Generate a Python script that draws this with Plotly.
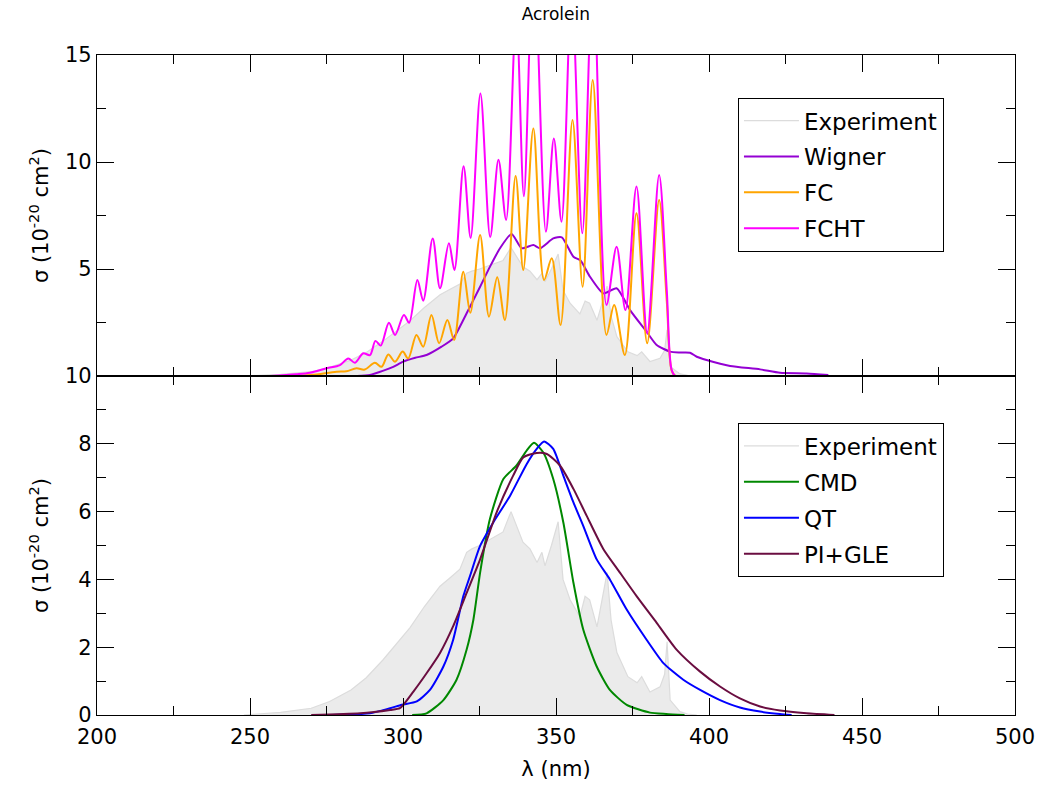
import plotly.graph_objects as go
from plotly.subplots import make_subplots

# ---------------- data ----------------
exp_wl = [248, 252, 260, 270, 276, 283, 288, 293.5, 298, 302.3, 307, 312.1, 315.4, 318.6, 320.8,
          322.5, 325, 329.4, 332.7, 335.3, 337, 339.2, 341.5, 343.8, 345.4, 346.4, 348.5, 350.7,
          352.3, 354.6, 357.8, 359.5, 361, 363.4, 366.7, 368, 369.9, 373.5, 376.5, 378, 380.7,
          384, 385.5, 386.3, 387.3, 390.5, 393, 396]
exp_s = [0, 0.02, 0.08, 0.2, 0.4, 0.74, 1.1, 1.63, 2.1, 2.58, 3.2, 3.8, 4.05, 4.3, 4.8,
         4.9, 5.0, 5.24, 5.4, 6.0, 5.6, 5.1, 4.9, 4.5, 4.8, 4.4, 5.0, 5.7,
         4.0, 3.4, 2.9, 3.5, 3.4, 2.6, 4.2, 2.8, 1.84, 1.13, 0.95, 1.13, 0.68,
         0.83, 1.2, 2.16, 0.44, 0.1, 0.03, 0]

wig_wl = [285, 289.2, 293.6, 296.8, 300.1, 304, 307.7, 312.6, 316.4, 320.8, 325.2, 328.4, 331.7,
          335.5, 338.8, 342.6, 344.8, 349.1, 351.9, 355.7, 358, 361.1, 365.5, 369.8, 374.2,
          379.6, 382.9, 387.3, 390.5, 393.8, 396, 399.2, 406.9, 416.7, 423.2, 431.9, 439]
wig_s = [0, 0.05, 0.25, 0.43, 0.67, 0.85, 0.98, 1.37, 1.76, 2.93, 4.17, 5.1, 5.97,
         6.64, 5.97, 6.12, 5.97, 6.43, 6.48, 5.57, 5.4, 4.64, 3.86, 4.1, 3.08,
         2.07, 1.45, 1.14, 1.1, 1.09, 0.9, 0.75, 0.47, 0.31, 0.15, 0.12, 0.05]

fc_wl = [263, 270, 278.3, 281.5, 284.8, 287.5, 290.8, 293, 295.2, 297.4, 299.9, 301.7, 304.4,
         306.6, 309.3, 311.8, 314.5, 316.7, 319.7, 322.0, 325.2, 328.1, 330.8, 333.3, 336.8,
         339.3, 342.6, 346.1, 348.6, 351.5, 355.4, 358.7, 362.0, 366.5, 369.0, 372.5, 376.3,
         379.8, 383.7, 386.2, 387.8, 389, 392]
fc_s = [0, 0.05, 0.2, 0.22, 0.36, 0.3, 0.62, 0.43, 1.01, 0.67, 1.14, 0.82, 1.92,
        1.37, 2.85, 1.53, 2.62, 1.68, 4.87, 2.95, 6.59, 2.77, 4.61, 2.62, 9.35,
        4.95, 11.57, 4.49, 5.5, 2.38, 11.96, 4.17, 13.83, 1.92, 3.32, 0.98, 7.6,
        1.53, 8.22, 3.5, 0.25, 0, 0]

fcht_wl = [256.5, 265, 269.6, 275, 279.4, 282.1, 284.3, 287, 289.2, 291, 292.7, 295.4, 297.4,
           300.3, 302, 304.7, 306.6, 309.7, 312.1, 315, 316.8, 319.8, 322.1, 325.3, 328.5,
           331.2, 333.7, 337.0, 339.5, 342.7, 346.7, 349.3, 351.8, 355.1, 358.6, 362.1, 366.5,
           369.8, 372.7, 376.3, 379.8, 383.7, 386.2, 387.8, 389, 392]
fcht_s = [0, 0.08, 0.15, 0.36, 0.51, 0.82, 0.62, 1.06, 0.98, 1.64, 1.42, 2.49, 1.92,
          2.85, 2.49, 4.49, 3.52, 6.43, 4.1, 6.2, 4.95, 9.8, 6.45, 13.2, 6.5,
          10.1, 7.29, 17, 8.4, 20, 6.74, 11.1, 7.21, 18, 6.67, 19, 3.32,
          6.04, 3.08, 8.85, 2.0, 9.39, 4.0, 0.28, 0, 0]

cmd_wl = [303, 307.7, 313.2, 317.5, 320.8, 323, 325.2, 328.4, 332.8, 337.1, 340.4, 342.8, 345.8,
          349.1, 352.4, 355.7, 358.9, 363.3, 367.6, 373.1, 380.7, 386, 392]
cmd_s = [0, 0.05, 0.44, 1.04, 1.93, 2.81, 4.2, 5.78, 6.96, 7.36, 7.8, 8.03, 7.75,
         6.96, 5.68, 3.9, 2.52, 1.43, 0.74, 0.3, 0.07, 0.03, 0]

qt_wl = [277, 289.2, 295.8, 299.6, 304.5, 308.8, 313.2, 316.4, 319.7, 321.9, 325.2, 329.5, 335,
         340.4, 343.7, 346.1, 349.1, 352.4, 355.7, 358.9, 363.3, 367.6, 373.1, 379.6, 385.1,
         391.6, 397.1, 403.6, 410.1, 416.7, 423.2, 427]
qt_s = [0, 0.05, 0.2, 0.3, 0.4, 0.74, 1.43, 2.22, 3.5, 4.1, 4.99, 5.68, 6.47,
        7.4, 7.85, 8.07, 7.85, 7.06, 6.27, 5.58, 4.59, 4.0, 3.11, 2.22, 1.53,
        1.04, 0.74, 0.44, 0.22, 0.1, 0.03, 0]

pg_wl = [270, 286, 295.8, 299, 303.4, 307.7, 312.1, 316.4, 320.8, 325.2, 330.6, 336, 339.3,
         343.7, 347, 351.3, 355.7, 360, 365.5, 370.9, 376.4, 382.9, 389.4, 397.1, 403.6,
         410.1, 416.7, 423.2, 431.9, 441]
pg_s = [0, 0.05, 0.15, 0.2, 0.69, 1.23, 1.83, 2.62, 3.6, 4.59, 5.98, 7.06, 7.6,
        7.73, 7.7, 7.36, 6.67, 5.88, 4.89, 4.2, 3.5, 2.72, 1.93, 1.28, 0.84,
        0.49, 0.25, 0.13, 0.05, 0]

top_ticks = [5, 10, 15]
bot_ticks = [0, 2, 4, 6, 8, 10]

# ---------------- figure ----------------
FONT = "DejaVu Sans, Verdana, sans-serif"
EXP_FILL = "#ebebeb"
EXP_LINE = "#dcdcdc"

fig = make_subplots(rows=2, cols=1, shared_xaxes=True, vertical_spacing=0,
                    row_heights=[321, 339])

def add_exp(row, legend, group):
    fig.add_trace(go.Scatter(x=exp_wl, y=exp_s, mode="lines", fill="tozeroy",
                             fillcolor=EXP_FILL, line=dict(width=0, color=EXP_FILL),
                             showlegend=False, hoverinfo="skip"), row=row, col=1)
    fig.add_trace(go.Scatter(x=exp_wl, y=exp_s, mode="lines", name="Experiment",
                             line=dict(width=1.2, color=EXP_LINE),
                             legend=legend, legendgroup=group), row=row, col=1)

add_exp(1, "legend", "a0")
top_series = [(wig_wl, wig_s, "Wigner", "#9400d3", 0.6),
              (fc_wl, fc_s, "FC", "#ffa500", 0.9),
              (fcht_wl, fcht_s, "FCHT", "#ff00ff", 0.9)]
for i, (xw, ys, nm, col, sm) in enumerate(top_series):
    fig.add_trace(go.Scatter(x=xw, y=ys, mode="lines", name=nm,
                             line=dict(color=col, width=2, shape="spline", smoothing=sm),
                             legend="legend", legendgroup="a%d" % (i + 1)), row=1, col=1)

add_exp(2, "legend2", "b0")
bot_series = [(cmd_wl, cmd_s, "CMD", "#008800"),
              (qt_wl, qt_s, "QT", "#0000ff"),
              (pg_wl, pg_s, "PI+GLE", "#6a0d40")]
for i, (xw, ys, nm, col) in enumerate(bot_series):
    fig.add_trace(go.Scatter(x=xw, y=ys, mode="lines", name=nm,
                             line=dict(color=col, width=2, shape="spline", smoothing=0.6),
                             legend="legend2", legendgroup="b%d" % (i + 1)), row=2, col=1)

axis_common = dict(showline=True, linecolor="black", linewidth=1.3, mirror="allticks",
                   ticks="inside", ticklen=17, tickwidth=1.3, tickcolor="black",
                   showgrid=False, zeroline=False, automargin=False,
                   tickfont=dict(family=FONT, size=21, color="black"))

fig.update_xaxes(range=[200, 500], dtick=50, tick0=200, ticklabelstandoff=3,
                 minor=dict(dtick=25, ticklen=9, tickwidth=1.3, tickcolor="black",
                            ticks="inside", showgrid=False),
                 **axis_common)
fig.update_xaxes(showticklabels=False, row=1, col=1)
fig.update_xaxes(title=dict(text="λ (nm)", font=dict(family=FONT, size=21, color="black"),
                            standoff=12), row=2, col=1)

ytitle = "σ (10<sup>-20</sup> cm<sup>2</sup>)"
fig.update_yaxes(range=[0, 15], tickvals=top_ticks,
                 minor=dict(dtick=2.5, tick0=0, ticklen=9, tickwidth=1.3, tickcolor="black",
                            ticks="inside", showgrid=False),
                 title=dict(text=ytitle, font=dict(family=FONT, size=21, color="black"),
                            standoff=10),
                 row=1, col=1, **axis_common)
fig.update_yaxes(range=[0, 10], tickvals=bot_ticks,
                 minor=dict(dtick=1, tick0=0, ticklen=9, tickwidth=1.3, tickcolor="black",
                            ticks="inside", showgrid=False),
                 title=dict(text=ytitle, font=dict(family=FONT, size=21, color="black"),
                            standoff=10),
                 row=2, col=1, **axis_common)

legend_common = dict(bgcolor="white", bordercolor="black", borderwidth=1.2,
                     font=dict(family=FONT, size=23, color="black"),
                     tracegroupgap=3, xanchor="left", yanchor="top",
                     xref="paper", yref="paper", itemwidth=55)

fig.update_layout(
    width=1038, height=785,
    margin=dict(l=97, r=23, t=55, b=70),
    paper_bgcolor="white", plot_bgcolor="white",
    font=dict(family=FONT, color="black"),
    title=dict(text="Acrolein", x=0.5355, xanchor="center", y=0.982, yanchor="middle",
               yref="container", font=dict(family=FONT, size=17, color="black")),
    legend=dict(x=0.698, y=0.935, **legend_common),
    legend2=dict(x=0.698, y=0.442, **legend_common),
)

fig.write_html("out.html")
